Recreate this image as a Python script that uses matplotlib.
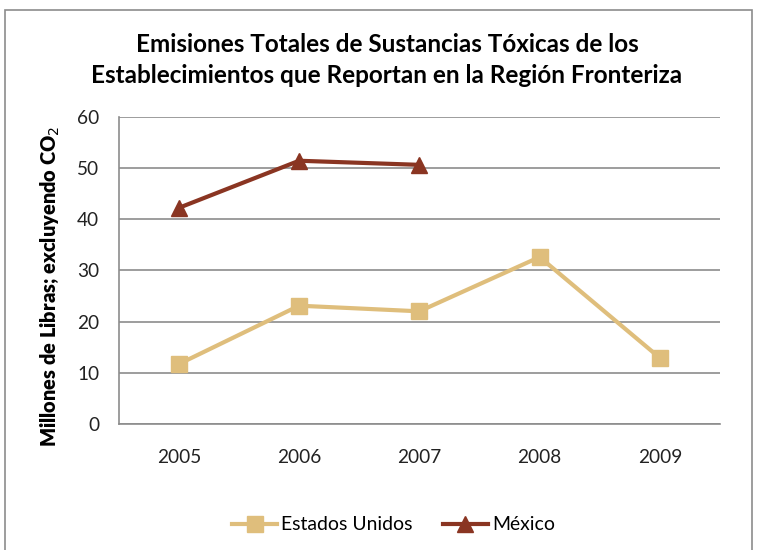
import matplotlib
matplotlib.use('Agg')
import matplotlib.pyplot as plt
from matplotlib.patches import Rectangle

# Datos del gráfico
anios = ['2005', '2006', '2007', '2008', '2009']
estados_unidos = [11.7, 23.1, 22.0, 32.6, 12.9]
mexico = [42.2, 51.4, 50.6]

titulo = ['Emisiones Totales de Sustancias Tóxicas de los',
          'Establecimientos que Reportan en la Región Fronteriza']
etiqueta_y = 'Millones de Libras; excluyendo CO$_2$'

plt.rcParams['font.family'] = ['Lato', 'DejaVu Sans']

W, H = 759, 550
fig = plt.figure(figsize=(W / 100, H / 100), dpi=100)
renderer = fig.canvas.get_renderer()


def ancho(texto, size, **kw):
    # mide el ancho en pixeles de un texto a un tamaño dado
    t = fig.text(0, 0, texto, fontsize=size, **kw)
    w = t.get_window_extent(renderer).width
    t.remove()
    return w


def ajustar(texto, objetivo, **kw):
    return 12 * objetivo / ancho(texto, 12, **kw)


fs_titulo = ajustar(titulo[0] + titulo[1], 496 + 591, fontweight='bold')
fs_ticks = ajustar('2005', 44)
fs_ylabel = ajustar(etiqueta_y, 322, fontweight='heavy')
fs_leyenda = ajustar('Estados Unidos', 131)

ax = fig.add_axes([118.7 / W, 1 - 424 / H, 601.3 / W, 307.3 / H])

# Borde exterior del área del gráfico
fig.patches.append(Rectangle((0.007, -0.05), 0.984, 1.032, transform=fig.transFigure,
                             fill=False, edgecolor='#8c8c8c', linewidth=1.2))

x = list(range(len(anios)))
ax.plot(x, estados_unidos, color='#DFBE7C', linewidth=3, marker='s',
        markersize=12, label='Estados Unidos')
ax.plot(x[:len(mexico)], mexico, color='#8A3522', linewidth=3, marker='^',
        markersize=12, label='México')

ax.set_xlim(-0.5, len(anios) - 0.5)
ax.set_ylim(0, 60)
ax.set_yticks(range(0, 61, 10))
ax.set_xticks(x)
ax.set_xticklabels(anios)
ax.tick_params(axis='both', length=0, labelsize=fs_ticks, colors='#222222')
ax.tick_params(axis='x', pad=18)
ax.tick_params(axis='y', pad=14)

ax.grid(axis='y', color='#8c8c8c', linewidth=1.2)
ax.set_axisbelow(True)
for s in ['top', 'right']:
    ax.spines[s].set_visible(False)
for s in ['left', 'bottom']:
    ax.spines[s].set_color('#8c8c8c')
    ax.spines[s].set_linewidth(1.2)

fig.text(50 / W, 1 - 286 / H, etiqueta_y, rotation=90, ha='center', va='center',
         fontsize=fs_ylabel, fontweight='heavy')

fig.text(387 / W, 1 - 52 / H, titulo[0], ha='center', va='baseline',
         fontsize=fs_titulo, fontweight='bold')
fig.text(387 / W, 1 - 83 / H, titulo[1], ha='center', va='baseline',
         fontsize=fs_titulo, fontweight='bold')

px = fs_leyenda * 100 / 72
fig.legend(loc='center', bbox_to_anchor=(393.5 / W, 1 - 525 / H), ncol=2,
           frameon=False, fontsize=fs_leyenda, handlelength=45 / px,
           handletextpad=4 / px, columnspacing=30 / px, borderpad=0)

plt.savefig('out.png', dpi=100)
